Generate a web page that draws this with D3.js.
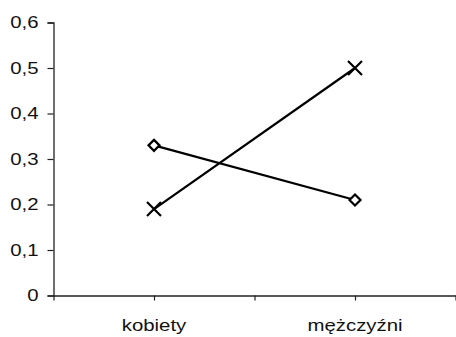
<!DOCTYPE html>
<html><head><meta charset="utf-8">
<script src="https://cdn.jsdelivr.net/npm/d3@7"></script>
<style>body{margin:0;background:#fff}svg{display:block}</style>
</head><body>
<script>
const categories = ["kobiety", "mężczyźni"];
const seriesDiamond = [0.33, 0.21];
const seriesCross = [0.19, 0.50];
const yTicks = [0, 0.1, 0.2, 0.3, 0.4, 0.5, 0.6];
const yTickLabels = ["0", "0,1", "0,2", "0,3", "0,4", "0,5", "0,6"];

const W = 456, H = 337;
const FONT = "'Liberation Sans', Arial, sans-serif";
const STRETCH = 1.2;
const FS = 17;
const svg = d3.select("body").append("svg").attr("width", W).attr("height", H)
  .style("font-family", FONT);

const y = d3.scaleLinear().domain([0, 0.6]).range([295.5, 22.5]);
// category slots: each category sits in the centre of two tick intervals
const x = d3.scaleLinear().domain([0, categories.length * 2]).range([53.5, 455.5]);
const cx = i => x(2 * i + 1);

const ya = svg.append("g").attr("transform", "translate(53.5,0)")
  .call(d3.axisLeft(y).tickValues(yTicks).tickFormat((d, i) => yTickLabels[i]).tickSize(6).tickPadding(9));
const xa = svg.append("g").attr("transform", "translate(0,295.5)")
  .call(d3.axisBottom(x).ticks(categories.length * 2).tickFormat("").tickSize(5).tickSizeOuter(0));
[ya, xa].forEach(g => {
  g.select(".domain").attr("stroke", "#222").attr("stroke-width", 1.3);
  g.selectAll(".tick line").attr("stroke", "#222").attr("stroke-width", 1.2);
});
ya.selectAll("text")
  .attr("x", 0)
  .attr("transform", `translate(-15,0) scale(${STRETCH},1)`)
  .attr("font-size", FS).attr("fill", "#111").attr("font-family", FONT);

svg.append("g").selectAll("text").data(categories).join("text")
  .attr("transform", (d, i) => `translate(${cx(i)},331) scale(${STRETCH},1)`)
  .attr("text-anchor", "middle").attr("font-size", FS).attr("fill", "#111")
  .text(d => d);

const line = d3.line().x((d, i) => cx(i)).y(d => y(d));
[seriesDiamond, seriesCross].forEach(s => {
  svg.append("path").datum(s).attr("d", line)
    .attr("fill", "none").attr("stroke", "#000").attr("stroke-width", 2.2);
});

// diamond markers
svg.append("g").selectAll("path").data(seriesDiamond).join("path")
  .attr("d", "M0,-5.5L5.5,0L0,5.5L-5.5,0Z")
  .attr("transform", (d, i) => `translate(${cx(i)},${y(d)})`)
  .attr("fill", "#fff").attr("stroke", "#000").attr("stroke-width", 2.2);

// cross markers
svg.append("g").selectAll("path").data(seriesCross).join("path")
  .attr("d", "M-7,-7L7,7M-7,7L7,-7")
  .attr("transform", (d, i) => `translate(${cx(i)},${y(d)})`)
  .attr("fill", "none").attr("stroke", "#000").attr("stroke-width", 2.2);
</script>
</body></html>
